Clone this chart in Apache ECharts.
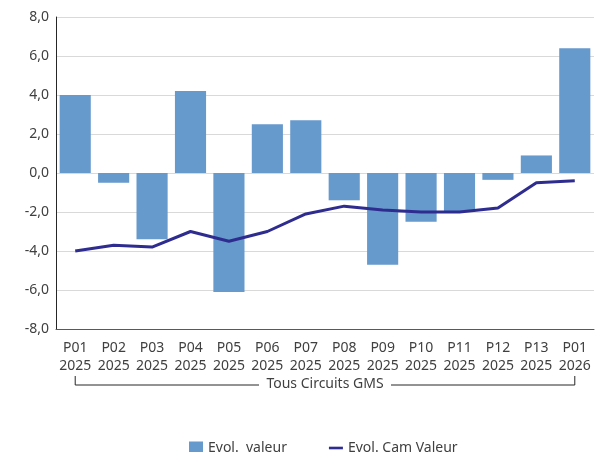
<!DOCTYPE html>
<html>
<head>
<meta charset="utf-8">
<script src="https://cdn.jsdelivr.net/npm/echarts@6/dist/echarts.min.js"></script>
<style>
	html, body { margin: 0; padding: 0; background: #fff; }
	#chart { width: 595px; height: 452px; }
</style>
</head>
<body>
<div id="chart"></div>
<script>
(function() {
	'use strict';

	var periods = [ "P01", "P02", "P03", "P04", "P05", "P06", "P07", "P08", "P09", "P10", "P11", "P12", "P13", "P01" ];
	var years = [ "2025", "2025", "2025", "2025", "2025", "2025", "2025", "2025", "2025", "2025", "2025", "2025", "2025", "2026" ];
	var evolValeur = [ 4.0, -0.5, -3.4, 4.2, -6.1, 2.5, 2.7, -1.4, -4.7, -2.5, -2.0, -0.35, 0.9, 6.4 ];
	var evolCamValeur = [ -4.0, -3.7, -3.8, -3.0, -3.5, -3.0, -2.1, -1.7, -1.9, -2.0, -2.0, -1.8, -0.5, -0.4 ];
	var groupLabel = "Tous Circuits GMS";

	var font = "'Noto Sans', sans-serif";
	var categories = [];
	for (var i = 0; i < periods.length; i++) {
		categories.push(periods[i] + "\n" + years[i]);
	}

	var chart = echarts.init(document.getElementById("chart"));
	chart.setOption({
		animation : false,
		textStyle : { fontFamily : font },
		grid : { left : 56, right : 1, top : 17, bottom : 123 },
		legend : {
			top : 436,
			left : 184,
			itemGap : 42,
			itemWidth : 14,
			itemHeight : 13,
			textStyle : { fontFamily : font, fontSize : 14, color : "#404040" },
			data : [
				{ name : "Evol.  valeur", icon : "rect" },
				{ name : "Evol. Cam Valeur", icon : "path://M0,0H16V3H0Z", itemStyle : { color : "#2e2d8f" } }
			]
		},
		xAxis : {
			type : "category",
			data : categories,
			axisLine : { onZero : false, lineStyle : { color : "#595959", width : 1 } },
			axisTick : { show : false },
			axisLabel : { fontSize : 14, color : "#404040", lineHeight : 18, margin : 10, interval : 0 }
		},
		yAxis : {
			type : "value",
			min : -8,
			max : 8,
			interval : 2,
			axisLine : { show : true, lineStyle : { color : "#262626", width : 1 } },
			axisTick : { show : false },
			splitLine : { lineStyle : { color : "#d9d9d9", width : 1 } },
			axisLabel : {
				fontSize : 14,
				color : "#404040",
				margin : 7,
				formatter : function(v) { return v.toFixed(1).replace(".", ","); }
			}
		},
		series : [
			{
				name : "Evol.  valeur",
				type : "bar",
				data : evolValeur,
				barCategoryGap : "19%",
				itemStyle : { color : "#6699cc" }
			},
			{
				name : "Evol. Cam Valeur",
				type : "line",
				data : evolCamValeur,
				symbol : "none",
				lineStyle : { color : "#2e2d8f", width : 3 },
				itemStyle : { color : "#2e2d8f" }
			}
		]
	});

	// bracket below the category labels, spanning first to last category
	var x0 = chart.convertToPixel({ xAxisIndex : 0 }, 0);
	var x1 = chart.convertToPixel({ xAxisIndex : 0 }, periods.length - 1);
	var yTop = 376, yLine = 385;
	var mid = (x0 + x1) / 2;
	var halfText = 62;
	chart.setOption({
		graphic : [
			{ type : "polyline", shape : { points : [ [ x0, yTop ], [ x0, yLine ], [ mid - halfText - 4, yLine ] ] },
				style : { stroke : "#262626", lineWidth : 1, fill : null } },
			{ type : "polyline", shape : { points : [ [ mid + halfText + 4, yLine ], [ x1, yLine ], [ x1, yTop ] ] },
				style : { stroke : "#262626", lineWidth : 1, fill : null } },
			{ type : "text", x : mid, y : yLine - 1, style : { text : groupLabel, fill : "#404040",
				font : "14px " + font, align : "center", verticalAlign : "middle" } }
		]
	});
}());
</script>
</body>
</html>
